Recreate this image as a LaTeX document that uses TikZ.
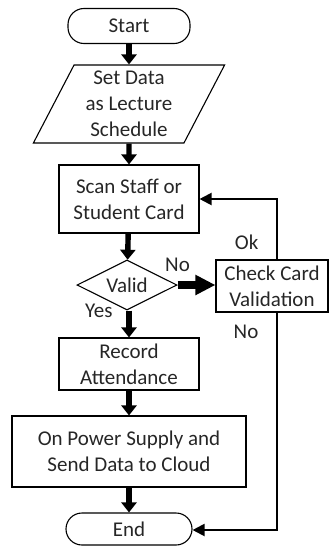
\documentclass[tikz,border=0pt]{standalone}
\usepackage{fontspec}
\setmainfont{Carlito}
\usetikzlibrary{shapes.geometric,arrows.meta}

\tikzset{
	every node/.style={font=\fontsize{10.5pt}{13pt}\selectfont, align=center, text=black!85},
	terminal/.style={draw, rounded corners=8pt, minimum width=61pt, minimum height=17.5pt, line width=0.55pt},
	io/.style={draw, trapezium, trapezium left angle=64, trapezium right angle=116, trapezium stretches=true, minimum width=96pt, minimum height=39pt, inner sep=0pt, line width=0.55pt},
	process/.style={draw, rectangle, minimum width=70pt, minimum height=26pt, inner sep=1pt, line width=0.55pt},
	decision/.style={draw, diamond, aspect=2, minimum width=50pt, minimum height=25pt, inner sep=0pt, line width=0.55pt},
	flow/.style={line width=2.7pt, -{Triangle[width=7.5pt,length=5pt]}},
	bigflow/.style={line width=3.8pt, -{Triangle[width=9.5pt,length=10pt]}},
	back/.style={line width=1pt, -{Triangle[width=6pt,length=6pt]}}
}

\begin{document}
\begin{tikzpicture}[x=0.5pt,y=-0.5pt]
	\useasboundingbox (0,0) rectangle (329,546);

	\node[terminal] (start) at (129,26) {Start};
	\node[io] (data) at (129,104) {Set Data\\as Lecture\\Schedule};
	\node[process, minimum height=34pt] (scan) at (129,199) {Scan Staff or\\Student Card};
	\node[decision] (valid) at (127,285) {Valid};
	\node[process, minimum width=56pt] (check) at (272,286) {Check Card\\Validation};
	\node[process] (record) at (129,364) {Record\\Attendance};
	\node[process, minimum width=117pt, minimum height=35.5pt] (power) at (129,451.5) {On Power Supply and\\Send Data to Cloud};
	\node[terminal, minimum width=63pt, minimum height=16pt] (end) at (129,529) {End};

	\coordinate (okturn) at (277,199);
	\coordinate (noturn) at (277,530);

	\path[flow] (start) edge (data);
	\path[flow] (data) edge (scan);
	\path[flow] (scan) edge (valid);
	\path[flow] (valid.south -| record.north) edge node[left=3.5pt, pos=0]{Yes} (record);
	\path[flow] (record) edge (power);
	\path[flow] (power) edge (end);
	\path[bigflow] (valid.east) edge node[above=1.5pt, pos=0]{No} (check.west |- valid.east);

	\draw[back] (check.north -| okturn) -- node[left=5.5pt, pos=0.28]{Ok} (okturn) -- (scan.east);
	\draw[back] (check.south -| noturn) -- node[left=5.5pt, pos=0.087]{No} (noturn) -- (end.east |- noturn);

\end{tikzpicture}
\end{document}
